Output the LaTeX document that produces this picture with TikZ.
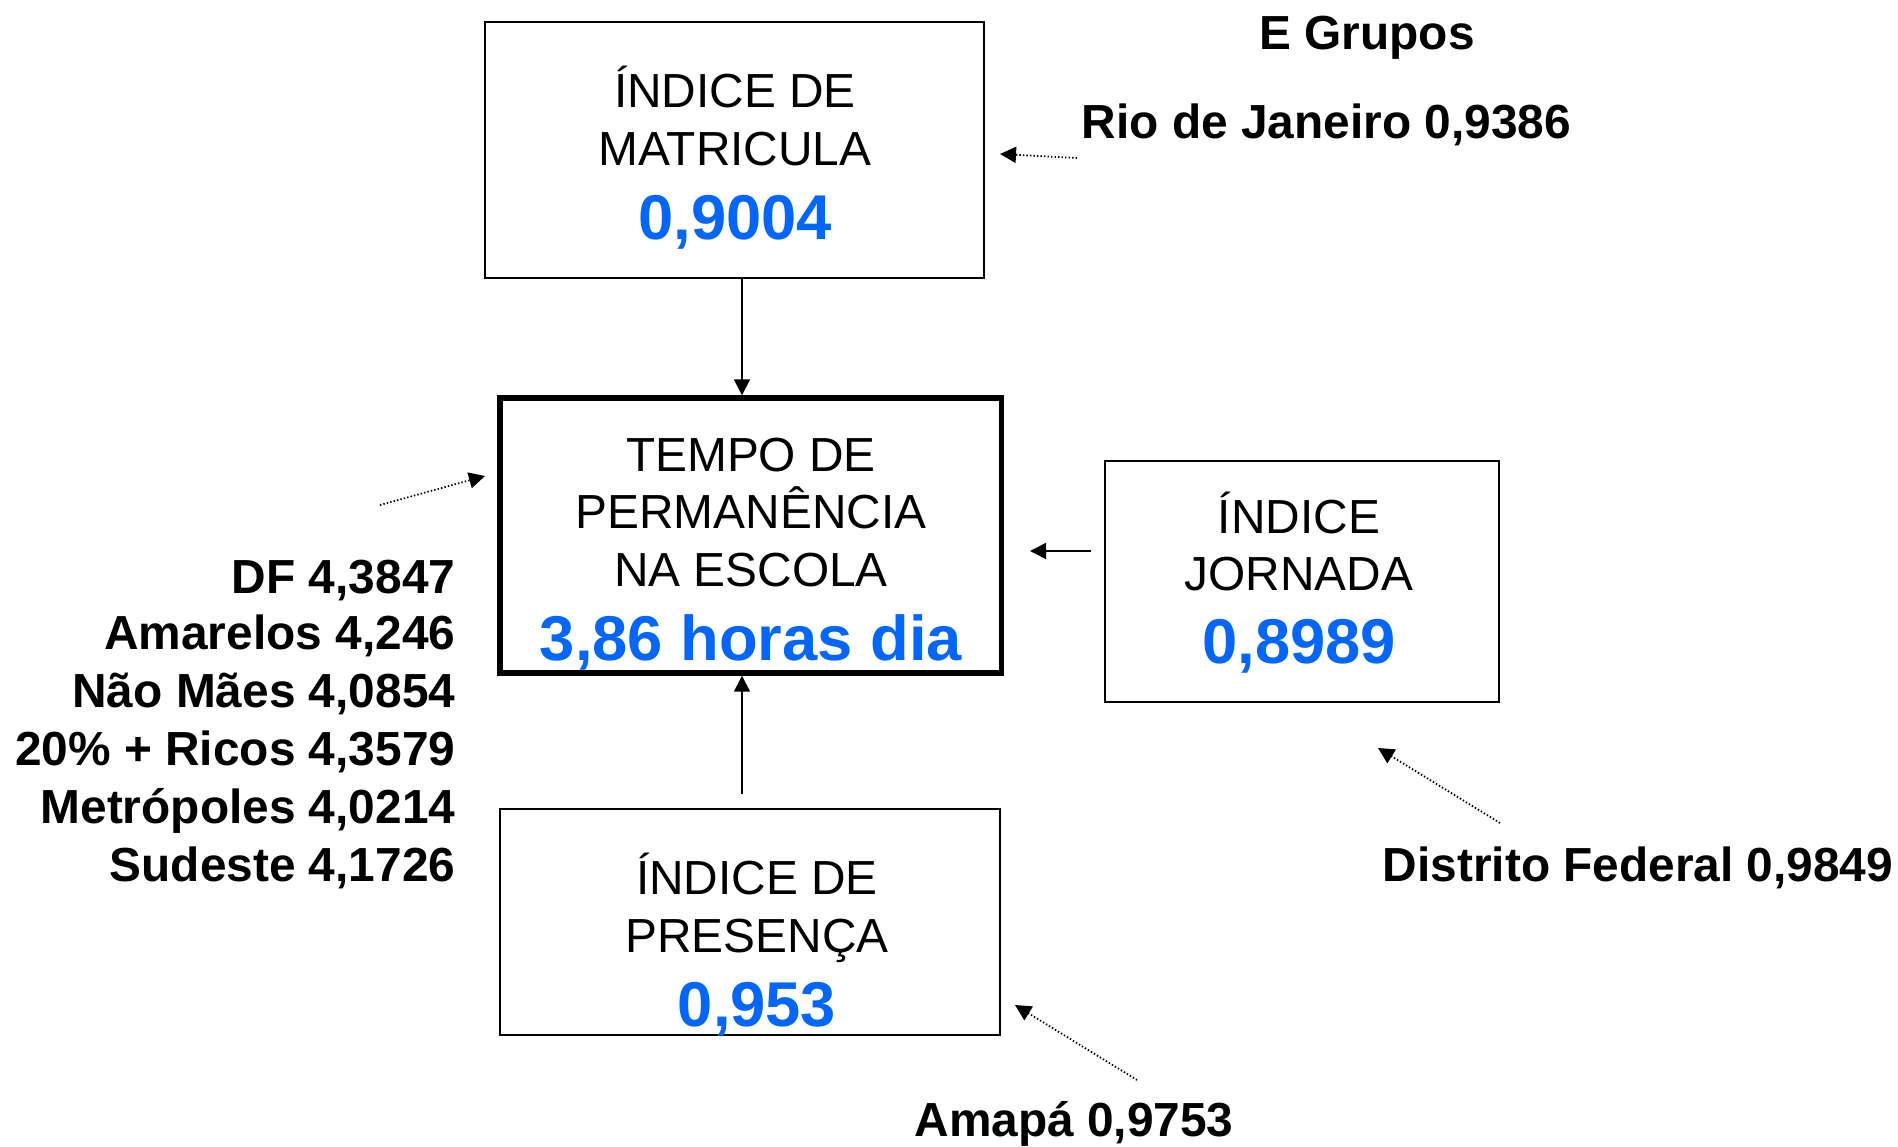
\documentclass[tikz,border=0pt]{standalone}
\usepackage{fontspec}
\setmainfont{Liberation Sans}
\usetikzlibrary{arrows.meta}
\usetikzlibrary{positioning}
\definecolor{mblue}{RGB}{0, 102, 255}
\tikzset{caixa/.style = {draw, line width=0.6pt, inner sep=0pt},
         rotulo/.style = {font=\fontsize{13.6}{16}\selectfont, inner sep=0pt,
                          text height=9.7pt, text depth=0pt},
         valor/.style = {font=\bfseries\fontsize{18}{21}\selectfont, text=mblue,
                         inner sep=0pt, text height=12.9pt, text depth=0pt},
         nota/.style = {font=\bfseries\fontsize{13.6}{16}\selectfont, inner sep=0pt,
                        text height=9.7pt, text depth=0pt},
         seta/.style = {-{Triangle[length=1.6mm, width=1.6mm]}, line width=0.45pt},
         pontos/.style = {seta, line width=0.5pt, dash pattern=on 0.4pt off 0.6pt}}

\begin{document}
\begin{tikzpicture}[x=0.01cm, y=-0.01cm]
    \useasboundingbox (0, 0) rectangle (1898, 1146);

    % caixas
    \node [caixa, minimum width=4.99cm, minimum height=2.56cm] (matricula) at (734.5, 150) {};
    \node [caixa, line width=1.5pt, minimum width=5.01cm, minimum height=2.75cm] (tempo) at (750.5, 535.5) {};
    \node [caixa, minimum width=3.94cm, minimum height=2.41cm] (jornada) at (1302, 581.5) {};
    \node [caixa, minimum width=5cm, minimum height=2.26cm] (presenca) at (750, 922) {};

    \node [rotulo] (mat1) at (735, 90) {ÍNDICE DE};
    \node [rotulo] (mat2) at (735, 148) {MATRICULA};
    \node [valor] (matval) at (735, 217) {0,9004};

    \node [rotulo] (tem1) at (751, 454) {TEMPO DE};
    \node [rotulo] (tem2) at (751, 511) {PERMANÊNCIA};
    \node [rotulo] (tem3) at (751, 569) {NA ESCOLA};
    \node [valor] (temval) at (751, 638) {3,86 horas dia};

    \node [rotulo] (jor1) at (1299, 516) {ÍNDICE};
    \node [rotulo] (jor2) at (1299, 573) {JORNADA};
    \node [valor] (jorval) at (1299, 641) {0,8989};

    \node [rotulo] (pre1) at (757, 877) {ÍNDICE DE};
    \node [rotulo] (pre2) at (757, 935) {PRESENÇA};
    \node [valor] (preval) at (757, 1004) {0,953};

    % setas entre caixas
    \coordinate (eixo) at (742, 0);
    \draw [seta] (matricula.south -| eixo) -- (tempo.north -| eixo);
    \coordinate (prebase) at (742, 794);
    \draw [seta] (prebase) -- (tempo.south -| eixo);
    \coordinate (jorbase) at (1091, 551);
    \coordinate (jorponta) at (1030, 551);
    \draw [seta] (jorbase) -- (jorponta);

    % grupos
    \node [nota] (grupos) at (1367, 32) {E Grupos};
    \node [nota, anchor=west] (rio) at (1081, 121) {Rio de Janeiro 0,9386};
    \node [nota] (df) at (1638, 864) {Distrito Federal 0,9849};
    \node [nota] (amapa) at (1074, 1119) {Amapá 0,9753};

    \node [nota, anchor=east] (g1) at (456, 576) {DF 4,3847};
    \node [nota, anchor=east] (g2) at (456, 632) {Amarelos 4,246};
    \node [nota, anchor=east] (g3) at (456, 690) {Não Mães 4,0854};
    \node [nota, anchor=east] (g4) at (456, 748) {20\% + Ricos 4,3579};
    \node [nota, anchor=east] (g5) at (456, 806) {Metrópoles 4,0214};
    \node [nota, anchor=east] (g6) at (456, 864) {Sudeste 4,1726};

    % setas pontilhadas
    \coordinate (riobase) at (1077, 158);
    \coordinate (rioponta) at (1000, 154);
    \draw [pontos] (riobase) -- (rioponta);
    \coordinate (gbase) at (380, 505);
    \coordinate (gponta) at (485, 476);
    \draw [pontos] (gbase) -- (gponta);
    \coordinate (dfbase) at (1500, 823);
    \coordinate (dfponta) at (1378, 748);
    \draw [pontos] (dfbase) -- (dfponta);
    \coordinate (apbase) at (1137, 1080);
    \coordinate (apponta) at (1015, 1005);
    \draw [pontos] (apbase) -- (apponta);
\end{tikzpicture}
\end{document}
